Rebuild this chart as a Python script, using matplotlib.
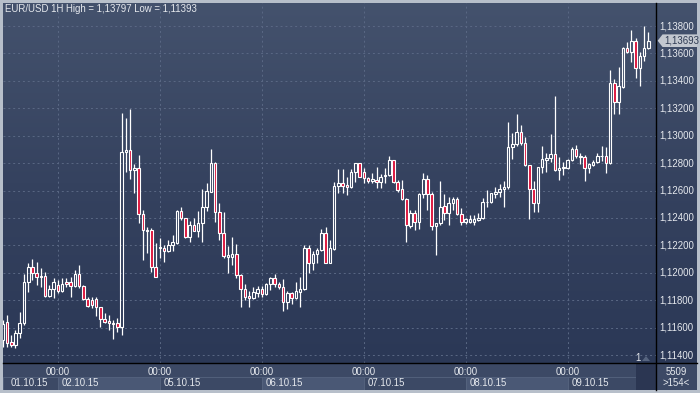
import numpy as np
import matplotlib
matplotlib.use("Agg")
import matplotlib.pyplot as plt
from matplotlib.colors import LinearSegmentedColormap
from matplotlib.patches import Rectangle, Polygon

# ---------------- data (EUR/USD 1H, 01.10.15 11:00 .. 09.10.15 20:00) ----------------
opens = [1.11509, 1.11641, 1.11495, 1.11473, 1.11560, 1.11633, 1.11933, 1.12042, 1.11998, 1.11976,
         1.11976, 1.11830, 1.11881, 1.11911, 1.11867, 1.11933, 1.11933, 1.11903, 1.11991, 1.11903,
         1.11808, 1.11801, 1.11808, 1.11750, 1.11663, 1.11648, 1.11633, 1.11633, 1.11604, 1.12881,
         1.12895, 1.12750, 1.12764, 1.12429, 1.12312, 1.12312, 1.12042, 1.12181, 1.12181, 1.12159,
         1.12202, 1.12217, 1.12450, 1.12399, 1.12261, 1.12348, 1.12305, 1.12363, 1.12480, 1.12589,
         1.12801, 1.12443, 1.12290, 1.12115, 1.12115, 1.12137, 1.11984, 1.11881, 1.11830, 1.11816,
         1.11852, 1.11881, 1.11845, 1.11918, 1.11962, 1.11918, 1.11896, 1.11787, 1.11852, 1.11816,
         1.11860, 1.11881, 1.12181, 1.12071, 1.12137, 1.12166, 1.12290, 1.12071, 1.12173, 1.12633,
         1.12655, 1.12640, 1.12626, 1.12735, 1.12801, 1.12735, 1.12691, 1.12669, 1.12677, 1.12662,
         1.12706, 1.12713, 1.12822, 1.12662, 1.12611, 1.12538, 1.12341, 1.12436, 1.12370, 1.12574,
         1.12684, 1.12574, 1.12341, 1.12363, 1.12487, 1.12436, 1.12509, 1.12538, 1.12429, 1.12370,
         1.12370, 1.12370, 1.12385, 1.12399, 1.12516, 1.12516, 1.12574, 1.12589, 1.12611, 1.12626,
         1.12917, 1.12939, 1.13027, 1.12946, 1.12786, 1.12611, 1.12509, 1.12771, 1.12822, 1.12837,
         1.12866, 1.12750, 1.12764, 1.12764, 1.12822, 1.12903, 1.12844, 1.12844, 1.12764, 1.12786,
         1.12808, 1.12852, 1.12852, 1.12801, 1.13384, 1.13246, 1.13355, 1.13640, 1.13610, 1.13691,
         1.13494, 1.13581, 1.13640]
highs = [1.11655, 1.11692, 1.11546, 1.11582, 1.11714, 1.11991, 1.12071, 1.12100, 1.12078, 1.12035,
         1.12005, 1.11911, 1.11962, 1.11947, 1.11962, 1.11962, 1.11969, 1.12020, 1.12057, 1.11911,
         1.11823, 1.11823, 1.11823, 1.11750, 1.11706, 1.11692, 1.11655, 1.11670, 1.13165, 1.13129,
         1.13195, 1.12793, 1.12859, 1.12458, 1.12334, 1.12326, 1.12217, 1.12253, 1.12202, 1.12239,
         1.12275, 1.12455, 1.12480, 1.12399, 1.12377, 1.12399, 1.12450, 1.12611, 1.12655, 1.12903,
         1.12808, 1.12509, 1.12443, 1.12195, 1.12261, 1.12210, 1.11991, 1.11918, 1.11867, 1.11896,
         1.11903, 1.11903, 1.11925, 1.11969, 1.11991, 1.11933, 1.11954, 1.11867, 1.11860, 1.11933,
         1.11969, 1.12202, 1.12202, 1.12159, 1.12181, 1.12319, 1.12334, 1.12239, 1.12662, 1.12757,
         1.12757, 1.12698, 1.12757, 1.12801, 1.12801, 1.12764, 1.12698, 1.12728, 1.12771, 1.12720,
         1.12764, 1.12852, 1.12822, 1.12677, 1.12677, 1.12545, 1.12458, 1.12458, 1.12582, 1.12728,
         1.12713, 1.12589, 1.12363, 1.12669, 1.12574, 1.12553, 1.12553, 1.12553, 1.12472, 1.12399,
         1.12421, 1.12421, 1.12436, 1.12545, 1.12604, 1.12585, 1.12626, 1.12647, 1.12669, 1.13100,
         1.13019, 1.13158, 1.13078, 1.12990, 1.12786, 1.12669, 1.12771, 1.12925, 1.12874, 1.13012,
         1.13289, 1.12844, 1.12808, 1.12830, 1.12917, 1.12932, 1.12874, 1.12859, 1.12801, 1.12822,
         1.12874, 1.12925, 1.12917, 1.13479, 1.13413, 1.13501, 1.13647, 1.13683, 1.13771, 1.13712,
         1.13610, 1.13797, 1.13756]
lows = [1.11458, 1.11458, 1.11458, 1.11451, 1.11524, 1.11619, 1.11860, 1.11947, 1.11911, 1.11896,
        1.11823, 1.11823, 1.11816, 1.11852, 1.11860, 1.11896, 1.11823, 1.11896, 1.11889, 1.11801,
        1.11750, 1.11743, 1.11684, 1.11604, 1.11633, 1.11582, 1.11517, 1.11568, 1.11546, 1.12735,
        1.12684, 1.12582, 1.12363, 1.12093, 1.12144, 1.12005, 1.11969, 1.12108, 1.12078, 1.12151,
        1.12159, 1.12210, 1.12385, 1.12253, 1.12224, 1.12305, 1.12261, 1.12224, 1.12450, 1.12589,
        1.12370, 1.12239, 1.12108, 1.11998, 1.12057, 1.11962, 1.11750, 1.11801, 1.11750, 1.11808,
        1.11823, 1.11823, 1.11838, 1.11874, 1.11896, 1.11881, 1.11721, 1.11736, 1.11772, 1.11808,
        1.11750, 1.11874, 1.11998, 1.12020, 1.12071, 1.12159, 1.12071, 1.12071, 1.12166, 1.12582,
        1.12582, 1.12567, 1.12618, 1.12662, 1.12698, 1.12655, 1.12655, 1.12655, 1.12618, 1.12618,
        1.12655, 1.12706, 1.12655, 1.12589, 1.12531, 1.12224, 1.12326, 1.12312, 1.12319, 1.12545,
        1.12458, 1.12312, 1.12129, 1.12348, 1.12385, 1.12348, 1.12458, 1.12421, 1.12348, 1.12356,
        1.12363, 1.12348, 1.12377, 1.12392, 1.12480, 1.12509, 1.12545, 1.12553, 1.12480, 1.12611,
        1.12830, 1.12925, 1.12932, 1.12779, 1.12392, 1.12443, 1.12443, 1.12728, 1.12735, 1.12808,
        1.12742, 1.12677, 1.12713, 1.12757, 1.12815, 1.12837, 1.12793, 1.12669, 1.12728, 1.12779,
        1.12801, 1.12815, 1.12728, 1.12793, 1.13158, 1.13158, 1.13350, 1.13603, 1.13537, 1.13421,
        1.13362, 1.13545, 1.13632]
closes = [1.11626, 1.11488, 1.11473, 1.11560, 1.11633, 1.11933, 1.12042, 1.11998, 1.11969, 1.11969,
          1.11830, 1.11881, 1.11933, 1.11867, 1.11918, 1.11918, 1.11903, 1.11991, 1.11903, 1.11808,
          1.11757, 1.11765, 1.11750, 1.11663, 1.11641, 1.11633, 1.11626, 1.11604, 1.12881, 1.12895,
          1.12750, 1.12764, 1.12429, 1.12312, 1.12305, 1.12042, 1.11969, 1.12185, 1.12159, 1.12202,
          1.12224, 1.12450, 1.12399, 1.12261, 1.12348, 1.12305, 1.12363, 1.12480, 1.12596, 1.12801,
          1.12443, 1.12290, 1.12122, 1.12129, 1.12137, 1.11984, 1.11881, 1.11823, 1.11816, 1.11860,
          1.11881, 1.11845, 1.11918, 1.11962, 1.11918, 1.11896, 1.11787, 1.11852, 1.11816, 1.11867,
          1.11881, 1.12181, 1.12071, 1.12137, 1.12166, 1.12290, 1.12071, 1.12181, 1.12633, 1.12655,
          1.12633, 1.12626, 1.12735, 1.12801, 1.12698, 1.12691, 1.12669, 1.12684, 1.12662, 1.12698,
          1.12713, 1.12822, 1.12662, 1.12604, 1.12538, 1.12348, 1.12436, 1.12370, 1.12574, 1.12684,
          1.12574, 1.12341, 1.12363, 1.12480, 1.12436, 1.12509, 1.12538, 1.12429, 1.12370, 1.12392,
          1.12392, 1.12392, 1.12399, 1.12516, 1.12520, 1.12582, 1.12589, 1.12611, 1.12626, 1.12917,
          1.12939, 1.13027, 1.12946, 1.12786, 1.12611, 1.12509, 1.12771, 1.12830, 1.12837, 1.12866,
          1.12750, 1.12764, 1.12771, 1.12822, 1.12903, 1.12852, 1.12852, 1.12764, 1.12793, 1.12808,
          1.12852, 1.12855, 1.12801, 1.13384, 1.13246, 1.13362, 1.13640, 1.13610, 1.13691, 1.13494,
          1.13581, 1.13640, 1.13693]

day_labels = ['01.10.15', '02.10.15', '05.10.15', '06.10.15', '07.10.15', '08.10.15', '09.10.15']
day_start_bar = [0, 13, 37, 61, 85, 109, 133]
price_ticks = [1.114, 1.116, 1.118, 1.120, 1.122, 1.124, 1.126, 1.128, 1.130, 1.132, 1.134, 1.136, 1.138]
title = "EUR/USD 1H High = 1,13797 Low = 1,11393"
last_price_label = "1,13693"

# ---------------- figure ----------------
W, H = 700, 393
fig = plt.figure(figsize=(W / 100, H / 100), dpi=100, facecolor='#b7bfca')
plt.rcParams['font.family'] = ['Liberation Sans', 'DejaVu Sans']
FS = 6.9
TXT = '#e6e9ee'

def px_rect(x0, y0, x1, y1):
    return [x0 / W, 1 - y1 / H, (x1 - x0) / W, (y1 - y0) / H]

grad = LinearSegmentedColormap.from_list('bg', ['#2b3856', '#35425f', '#44526d'])

def gradient(ax, lo=0.0, hi=1.0):
    g = np.linspace(lo, hi, 256).reshape(-1, 1)
    ax.imshow(g, extent=[0, 1, 0, 1], transform=ax.transAxes, cmap=grad, vmin=0, vmax=1,
              aspect='auto', origin='lower', zorder=0, interpolation='bicubic')

ax = fig.add_axes(px_rect(3, 3, 656, 363))
axr = fig.add_axes(px_rect(656, 3, 697, 363), sharey=ax)
axt = fig.add_axes(px_rect(3, 363, 656, 390), sharex=ax)
axc = fig.add_axes(px_rect(656, 363, 697, 390))

x0_lim, x1_lim = 0.06, 153.8
y0_lim, y1_lim = 1.11342, 1.13968

gradient(ax)
gradient(axr)
ax.set_xlim(x0_lim, x1_lim)
ax.set_ylim(y0_lim, y1_lim)

# grid
for p in price_ticks:
    ax.axhline(p, color='#5a6884', lw=0.7, ls=(0, (2, 3)), zorder=1)
for b in day_start_bar[1:]:
    ax.axvline(b, color='#5a6884', lw=0.7, ls=(0, (2, 3)), zorder=1)

# candles
xs = np.arange(len(closes))
o = np.array(opens); c = np.array(closes); h = np.array(highs); l = np.array(lows)
top = np.maximum(o, c); bot = np.minimum(o, c)
ax.vlines(xs, top, h, color='white', lw=0.9, zorder=2)
ax.vlines(xs, l, bot, color='white', lw=0.9, zorder=2)
face = ['#dc143c' if cc < oo else 'none' for oo, cc in zip(o, c)]
ax.bar(xs, top - bot, bottom=bot, width=0.6, color=face, edgecolor='white', linewidth=0.8, zorder=3)

for a in (ax, axr, axt, axc):
    a.set_xticks([]); a.set_yticks([])
    for s in a.spines.values():
        s.set_visible(False)

# right price scale
axr.set_xlim(0, 1)
for p in price_ticks:
    axr.text(0.09, p, f"{p:.5f}".replace('.', ','), color=TXT, fontsize=FS, va='center', ha='left', zorder=3)
last = closes[-1]
tag = Polygon([[0.04, last], [0.16, last + 0.00046], [1.0, last + 0.00046],
               [1.0, last - 0.00046], [0.16, last - 0.00046]], closed=True,
              facecolor='#c3c8d0', edgecolor='none', zorder=4)
axr.add_patch(tag)
axr.text(0.2, last, last_price_label, color='#2e3a52', fontsize=FS, va='center', ha='left', zorder=5)

# time scale panel
axt.set_facecolor('#3c4965')
axt.set_ylim(0, 1)
bounds = [x0_lim] + day_start_bar[1:] + [149.1]
for k in range(len(day_labels)):
    xa, xb = bounds[k], bounds[k + 1]
    fc = '#4a5875' if k % 2 == 1 else '#3c4965'
    axt.add_patch(Rectangle((xa, 0.0), xb - xa, 0.5, facecolor=fc, edgecolor='#56647f',
                            lw=0.6, zorder=1))
    lx = 1.9 if k == 0 else xa + 0.95
    axt.text(lx, 0.27, day_labels[k], color=TXT, fontsize=FS, va='center', ha='left', zorder=3)
for b in day_start_bar[1:]:
    axt.text(b, 0.68, "00:00", color=TXT, fontsize=FS, va='center', ha='center', zorder=3)
axt.add_patch(Rectangle((149.1, 0), x1_lim - 149.1, 1, facecolor='#2b3652', edgecolor='none', zorder=2))

# corner panel
axc.set_facecolor('#3c4965')
axc.text(0.5, 0.68, "5509", color=TXT, fontsize=FS, va='center', ha='center', transform=axc.transAxes)
axc.text(0.5, 0.27, ">154<", color=TXT, fontsize=FS, va='center', ha='center', transform=axc.transAxes)

# separator lines
fig.add_artist(plt.Line2D([656 / W, 656 / W], [1 - 3 / H, 1 - 390 / H], color='black', lw=1.0))
fig.add_artist(plt.Line2D([3 / W, 697 / W], [1 - 363 / H, 1 - 363 / H], color='black', lw=1.0))

# title and misc
fig.text(5 / W, 1 - 9 / H, title, color=TXT, fontsize=FS, va='center', ha='left')
fig.text(638 / W, 1 - 358 / H, "1", color=TXT, fontsize=FS, va='center', ha='center')
fig.add_artist(Polygon([[642 / W, 1 - 361 / H], [650 / W, 1 - 361 / H], [646 / W, 1 - 356 / H]],
                       closed=True, facecolor='#56647f', edgecolor='none', transform=fig.transFigure))

fig.savefig('out.png', dpi=100, facecolor=fig.get_facecolor())
